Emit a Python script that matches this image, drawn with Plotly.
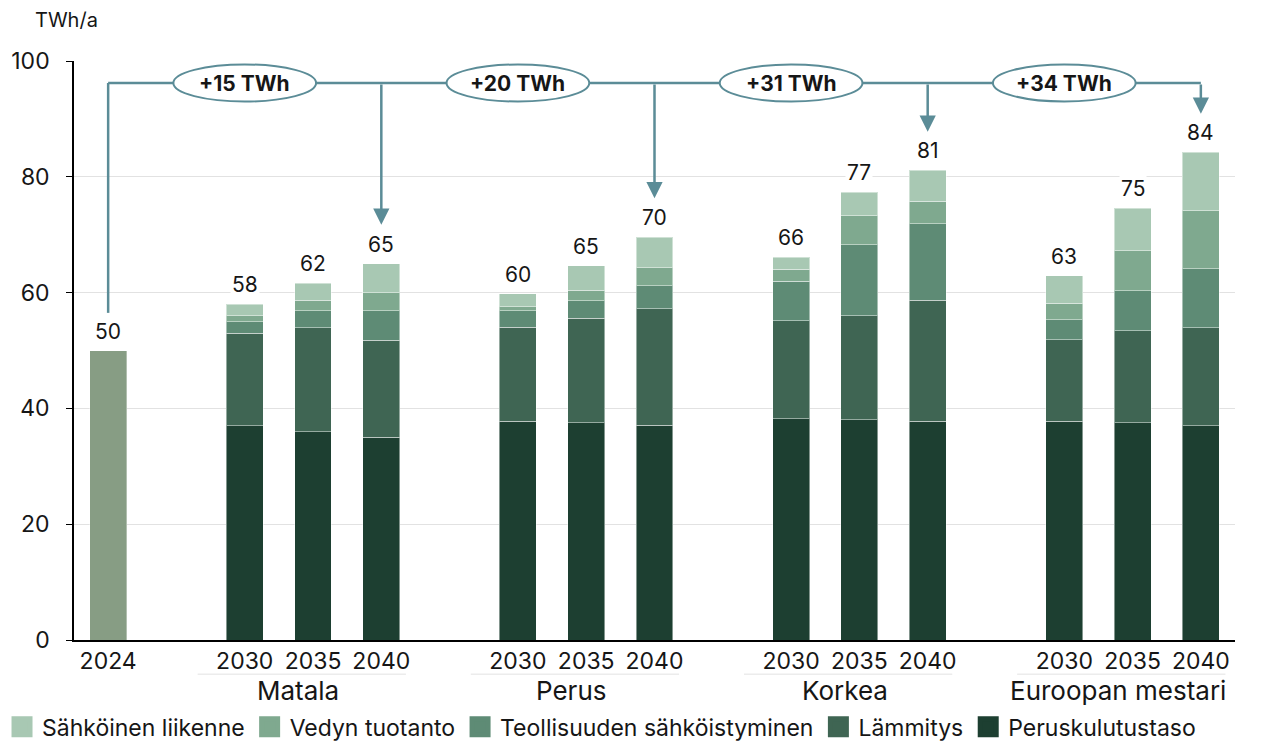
import plotly.graph_objects as go

# ---- data -------------------------------------------------------------
base_year = "2024"
base_value = 50.0

scenarios = ["Matala", "Perus", "Korkea", "Euroopan mestari"]
years = ["2030", "2035", "2040"]

# one value per (scenario, year), scenario-major order
peruskulutustaso = [37.0, 36.0, 35.0, 37.8, 37.5, 37.1, 38.2, 38.0, 37.8, 37.8, 37.5, 37.0]
lammitys = [16.0, 17.9, 16.8, 16.2, 18.1, 20.1, 16.9, 18.0, 20.9, 14.1, 15.9, 16.9]
teollisuus = [2.0, 3.0, 5.1, 2.9, 3.0, 4.0, 6.9, 12.3, 13.2, 3.4, 6.9, 10.2]
vedyn = [1.0, 1.8, 3.1, 0.7, 1.8, 3.1, 2.0, 5.0, 3.9, 2.9, 6.9, 10.0]
sahkoinen = [2.0, 2.9, 5.0, 2.2, 4.2, 5.3, 2.1, 4.0, 5.3, 4.7, 7.4, 10.1]

series_names = ["Peruskulutustaso", "Lämmitys", "Teollisuuden sähköistyminen",
                "Vedyn tuotanto", "Sähköinen liikenne"]
series_values = [peruskulutustaso, lammitys, teollisuus, vedyn, sahkoinen]

# ---- styling ----------------------------------------------------------
colors = ["#1d3f31", "#3f6553", "#5e8b75", "#7fa98f", "#a8c8b3"]
base_color = "#879d84"
accent = "#5b8c97"
text_color = "#161616"
FONT = "Inter"

# slot layout: 2024 alone, then each scenario as a block of three with a gap
slot_step = 4
positions = []
for g in range(len(scenarios)):
    for j in range(len(years)):
        positions.append(slot_step * g + 2 + j)

totals = [round(sum(v[i] for v in series_values), 1) for i in range(len(positions))]

fig = go.Figure()

# 2024 reference bar
fig.add_bar(x=[0], y=[base_value], width=0.54, marker_color=base_color,
            marker_line=dict(color="rgba(255,255,255,0.35)", width=1),
            showlegend=False, hoverinfo="skip")

for name, vals, col in zip(series_names, series_values, colors):
    fig.add_bar(x=positions, y=vals, name=name, width=0.54, marker_color=col,
                marker_line=dict(color="rgba(255,255,255,0.45)", width=1),
                showlegend=False)

# legend entries with larger square swatches
for name, col in zip(series_names, colors):
    fig.add_scatter(x=[None], y=[None], mode="markers", name=name,
                    marker=dict(symbol="square", size=16, color=col,
                                line=dict(color=col, width=5)))

fig.update_layout(barmode="stack")

annotations = []
shapes = []

# totals above the bars
label_font = dict(family=FONT, size=21, color=text_color)
for x, t in [(0, base_value)] + list(zip(positions, totals)):
    annotations.append(dict(x=x, y=t, text=f"{round(t):.0f}", showarrow=False,
                            yanchor="bottom", yshift=5, font=label_font,
                            bgcolor="white", borderpad=1))

# increase bracket from 2024 towards each 2040 bar
bracket_y = 96.2
arrow_gap = 6.7
last_positions = [positions[3 * g + 2] for g in range(len(scenarios))]
first_positions = [positions[3 * g] for g in range(len(scenarios))]
last_totals = [totals[3 * g + 2] for g in range(len(scenarios))]

shapes.append(dict(type="line", xref="x", yref="y", x0=0, x1=0,
                   y0=base_value + arrow_gap - 0.2, y1=bracket_y,
                   line=dict(color=accent, width=2.5)))
shapes.append(dict(type="line", xref="x", yref="y", x0=0, x1=last_positions[-1],
                   y0=bracket_y, y1=bracket_y, line=dict(color=accent, width=2.5)))

for xp, t, xf in zip(last_positions, last_totals, first_positions):
    annotations.append(dict(x=xp, y=t + arrow_gap, ax=xp, ay=bracket_y,
                            xref="x", yref="y", axref="x", ayref="y",
                            text="", showarrow=True, arrowhead=2, arrowsize=1.3,
                            arrowwidth=2.5, arrowcolor=accent))
    shapes.append(dict(type="circle", xref="x", yref="y",
                       x0=xf - 1.045, x1=xf + 1.045,
                       y0=bracket_y - 3.2, y1=bracket_y + 3.2,
                       line=dict(color=accent, width=2), fillcolor="white"))
    annotations.append(dict(x=xf, y=bracket_y, text=f"<b>+{round(t - base_value):.0f} TWh</b>",
                            showarrow=False, font=dict(family=FONT, size=21, color=text_color)))

# scenario names beneath the year labels, with thin rules
for g, name in enumerate(scenarios):
    x0 = positions[3 * g] - 0.69
    x1 = positions[3 * g + 2] + 0.36
    shapes.append(dict(type="line", xref="x", yref="paper", x0=x0, x1=x1,
                       y0=-0.059, y1=-0.059, line=dict(color="#ececec", width=1.5)))
    annotations.append(dict(x=(x0 + x1) / 2 - 0.05, y=-0.088, xref="x", yref="paper",
                            text=name, showarrow=False, yanchor="middle",
                            font=dict(family=FONT, size=26, color=text_color)))

# unit label in the top-left corner
annotations.append(dict(x=-0.035, y=1.07, xref="paper", yref="paper", xanchor="left",
                        yanchor="middle", text="TWh/a", showarrow=False,
                        font=dict(family=FONT, size=20, color=text_color)))

fig.update_layout(
    width=1279, height=741,
    margin=dict(l=74, r=44, t=61, b=101, autoexpand=False),
    paper_bgcolor="white", plot_bgcolor="white",
    font=dict(family=FONT, color=text_color),
    xaxis=dict(range=[-0.5, 16.5], tickmode="array",
               tickvals=[0] + positions,
               ticktext=[base_year] + years * len(scenarios),
               tickfont=dict(family=FONT, size=23, color=text_color),
               showgrid=False, zeroline=False, showline=True,
               linecolor="black", linewidth=1.5, ticks="", ticklabelstandoff=0),
    yaxis=dict(range=[0, 100], tickmode="array", tickvals=[0, 20, 40, 60, 80, 100],
               tickfont=dict(family=FONT, size=23, color=text_color),
               showgrid=True, gridcolor="#e2e2e2", gridwidth=1.2,
               zeroline=False, showline=True, linecolor="black", linewidth=1.5,
               ticks="outside", ticklen=6, tickcolor="black", ticklabelstandoff=12),
    legend=dict(orientation="h", x=-0.062, xanchor="left", y=-0.15, yanchor="middle",
                font=dict(family=FONT, size=23, color=text_color),
                traceorder="reversed", itemclick=False, itemdoubleclick=False),
    annotations=annotations,
    shapes=shapes,
    showlegend=True,
)

fig.write_html("out.html")
